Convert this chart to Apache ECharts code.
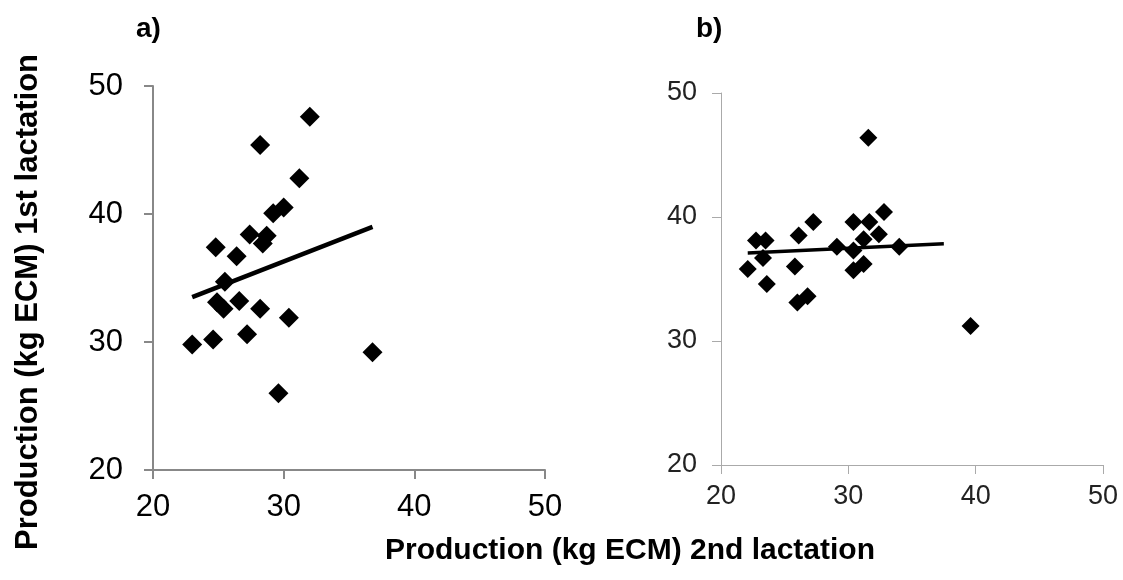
<!DOCTYPE html>
<html>
<head>
<meta charset="utf-8">
<script src="https://cdn.jsdelivr.net/npm/echarts@6/dist/echarts.min.js"></script>
<style>html,body{margin:0;padding:0;background:#fff}#c{width:1123px;height:580px}</style>
</head>
<body>
<div id="c"></div>
<script>
// Panel a) points: [2nd lactation, 1st lactation]
const pointsA = [
  [32.0,47.6],[28.2,45.4],[31.2,42.8],[30.0,40.5],[29.2,40.05],[27.4,38.4],[28.7,38.3],
  [28.4,37.7],[24.8,37.4],[26.4,36.7],[25.5,34.7],[24.9,33.1],[25.4,32.6],[26.6,33.2],
  [28.2,32.6],[30.4,31.9],[23.0,29.8],[24.6,30.2],[27.2,30.6],[36.8,29.2],[29.6,26.0]
];
const trendA = [[23.0,33.5],[36.8,39.0]];
// Panel b) points
const pointsB = [
  [31.57,46.4],[32.8,40.4],[27.25,39.6],[30.4,39.6],[31.65,39.6],[32.4,38.6],[31.2,38.2],
  [26.1,38.5],[22.75,38.1],[23.5,38.1],[23.3,36.7],[29.1,37.6],[30.4,37.3],[34.0,37.6],
  [22.1,35.8],[25.8,36.0],[30.4,35.7],[31.2,36.2],[23.6,34.6],[26.0,33.1],[26.8,33.6],[39.6,31.2]
];
const trendB = [[22.1,37.1],[37.5,37.85]];
const axisTicks = [20,30,40,50];
const yName = 'Production (kg ECM) 1st lactation';
const xName = 'Production (kg ECM) 2nd lactation';

const chart = echarts.init(document.getElementById('c'), null, {renderer:'canvas'});
const F = 'Liberation Sans, Arial, sans-serif';
function xa(idx, color, w, fs, margin, lc){
  return {gridIndex: idx, type:'value', min: axisTicks[0], max: axisTicks[axisTicks.length-1], interval: 10,
    splitLine:{show:false},
    axisLine:{show:true, lineStyle:{color:color, width:w}},
    axisTick:{show:true, inside:false, length:9, lineStyle:{color:color, width:w}},
    axisLabel:{color:lc, fontSize:fs, fontFamily:F, margin:margin}};
}
chart.setOption({
  animation:false,
  backgroundColor:'#fff',
  grid:[
    {left:153, top:86, width:392, height:384},
    {left:721, top:93, width:382, height:372}
  ],
  title:[
    {text:'a)', left:131, top:10, textStyle:{fontFamily:F, fontWeight:'bold', fontSize:28, color:'#000'}},
    {text:'b)', left:691, top:10, textStyle:{fontFamily:F, fontWeight:'bold', fontSize:28, color:'#000'}}
  ],
  xAxis:[ xa(0,'#888',2,31,22,'#000'), xa(1,'#aaa',1,27,18,'#222') ],
  yAxis:[ xa(0,'#888',2,31,30,'#000'), xa(1,'#aaa',1,27,24,'#222') ],
  graphic:[
    {type:'text', x:28, y:302, rotation:Math.PI/2, style:{text:yName, font:'bold 31px '+F, fill:'#000', align:'center', verticalAlign:'middle'}},
    {type:'text', x:630, y:551, style:{text:xName, font:'bold 30px '+F, fill:'#000', align:'center', verticalAlign:'middle'}}
  ],
  series:[
    {type:'line', xAxisIndex:0, yAxisIndex:0, data:trendA, symbol:'none', lineStyle:{color:'#000', width:4.5}, z:3},
    {type:'scatter', xAxisIndex:0, yAxisIndex:0, data:pointsA, symbol:'diamond', symbolSize:20, itemStyle:{color:'#000', opacity:1}, z:4},
    {type:'line', xAxisIndex:1, yAxisIndex:1, data:trendB, symbol:'none', lineStyle:{color:'#000', width:3.5}, z:3},
    {type:'scatter', xAxisIndex:1, yAxisIndex:1, data:pointsB, symbol:'diamond', symbolSize:18, itemStyle:{color:'#000', opacity:1}, z:4}
  ]
});
</script>
</body>
</html>
